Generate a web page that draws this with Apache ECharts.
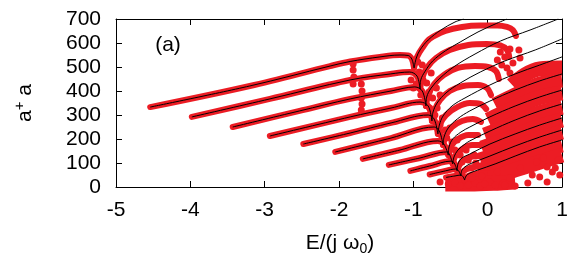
<!DOCTYPE html>
<html><head><meta charset="utf-8">
<script src="https://cdn.jsdelivr.net/npm/echarts@6/dist/echarts.min.js"></script>
<style>html,body{margin:0;padding:0;background:#fff}#c{width:580px;height:262px}</style>
</head><body><div id="c"></div>
<script>
// axis ticks
const xTicks = [-5, -4, -3, -2, -1, 0, 1];
const yTicks = [0, 100, 200, 300, 400, 500, 600, 700];

// black branch lines (left part, ending at the cusp)
const b1 = [[-4.54,333],[-3.20,421],[-2.12,504],[-1.85,523],[-1.45,542],[-1.18,550],[-1.07,548],[-1.02,533],[-0.99,496]];
const b2 = [[-3.98,292],[-2.93,367],[-1.85,446],[-1.31,471],[-1.05,479],[-0.95,462],[-0.91,408]];
const b3 = [[-3.43,250],[-2.53,317],[-1.85,367],[-1.30,400],[-0.98,417],[-0.88,400],[-0.83,337.5]];
const b4 = [[-2.93,212.5],[-1.85,292],[-1.30,329],[-0.91,354],[-0.80,337.5],[-0.75,275]];
const b5 = [[-2.48,179],[-1.85,225],[-1.30,267],[-0.80,300],[-0.72,283],[-0.67,221]];
const b6 = [[-2.05,146],[-1.30,204],[-0.72,250],[-0.65,233],[-0.60,175]];
const b7 = [[-1.68,117],[-1.18,154],[-0.67,192],[-0.59,179],[-0.53,133]];
const b8 = [[-1.33,92],[-0.91,121],[-0.55,146],[-0.51,133],[-0.47,96]];
const b9 = [[-1.04,67],[-0.78,87.5],[-0.49,108],[-0.45,100],[-0.41,67]];
const b10 = [[-0.78,52],[-0.57,67],[-0.43,75],[-0.39,67],[-0.36,46]];
const b11 = [[-0.56,40],[-0.44,46],[-0.36,50],[-0.33,42],[-0.31,29]];
const branches = [b1,b2,b3,b4,b5,b6,b7,b8,b9,b10,b11];

// black rising curves (from each cusp to the right)
const c1 = [[-0.99,496],[-0.96,537.5],[-0.91,571],[-0.80,612.5],[-0.63,654],[-0.44,687.5],[-0.32,700]];
const c2 = [[-0.91,408],[-0.90,446],[-0.84,483],[-0.74,525],[-0.57,567],[-0.37,604],[-0.13,646],[0.10,679],[0.26,700]];
const c3 = [[-0.83,337.5],[-0.82,375],[-0.76,412.5],[-0.64,454],[-0.44,504],[-0.17,554],[0.17,608],[0.57,654],[0.95,700]];
const c4 = [[-0.75,275],[-0.735,312.5],[-0.68,350],[-0.56,392],[-0.37,433],[-0.10,479],[0.23,525],[0.64,571],[1.0,617]];
const c5 = [[-0.67,221],[-0.65,258],[-0.60,296],[-0.48,337.5],[-0.305,371],[0.03,425],[0.37,471],[0.70,508],[1.0,542]];
const c6 = [[-0.60,175],[-0.587,208],[-0.53,246],[-0.41,283],[-0.24,317],[0.03,358],[0.37,404],[0.70,442],[1.0,471]];
const c7 = [[-0.53,133],[-0.52,167],[-0.47,200],[-0.36,229],[-0.24,250],[0.03,292],[0.37,337.5],[0.70,375],[1.0,404]];
const c8 = [[-0.47,96],[-0.453,125],[-0.40,154],[-0.305,179],[-0.24,192],[0.03,233],[0.37,279],[0.70,317],[1.0,346]];
const c9 = [[-0.41,67],[-0.40,96],[-0.345,121],[-0.24,137.5],[0.03,179],[0.37,221],[0.70,258],[1.0,287.5]];
const c10 = [[-0.36,46],[-0.345,71],[-0.29,87.5],[-0.21,100],[0.03,129],[0.37,171],[0.70,208],[1.0,237.5]];
const c11 = [[-0.31,29],[-0.29,46],[-0.24,58],[-0.13,71],[0.10,96],[0.37,129],[0.70,167],[1.0,196]];
const risingCurves = [c1,c2,c3,c4,c5,c6,c7,c8,c9,c10,c11];

// red numerical arcs beyond each cusp
const a1 = [[-0.99,496],[-0.95,542],[-0.88,579],[-0.78,617],[-0.57,650],[-0.345,667],[-0.10,673],[0.13,673],[0.26,667],[0.34,654],[0.38,629]];
const a2 = [[-0.91,408],[-0.88,454],[-0.82,496],[-0.695,537.5],[-0.51,571],[-0.26,592],[-0.01,596],[0.17,590],[0.26,571],[0.29,542]];
const a3 = [[-0.83,337.5],[-0.80,383],[-0.72,429],[-0.59,467],[-0.40,496],[-0.17,504],[0.005,500],[0.11,483],[0.15,450]];
const a4 = [[-0.75,275],[-0.72,317],[-0.64,362.5],[-0.51,400],[-0.33,421],[-0.13,425],[-0.01,412.5],[0.045,383]];
const a5 = [[-0.67,221],[-0.64,262.5],[-0.56,300],[-0.41,333],[-0.24,350],[-0.10,346],[-0.02,325]];
const a6 = [[-0.60,175],[-0.56,217],[-0.48,250],[-0.345,275],[-0.20,283],[-0.09,271]];
const a7 = [[-0.53,133],[-0.49,171],[-0.40,200],[-0.26,217],[-0.13,217]];
const a8 = [[-0.47,96],[-0.43,133],[-0.345,158],[-0.21,175],[-0.08,175]];
const a9 = [[-0.41,67],[-0.37,96],[-0.29,117],[-0.16,129],[-0.02,125]];
const a10 = [[-0.36,46],[-0.32,67],[-0.24,79],[-0.10,87.5]];
const a11 = [[-0.31,29],[-0.26,46],[-0.17,54],[-0.04,58]];
const redArcs = [a1,a2,a3,a4,a5,a6,a7,a8,a9,a10,a11];

// dense red cloud (lower right), traced as bands
const band1 = [[0.33,425],[0.50,467],[0.70,492],[1.0,496]];
const band2 = [[0.10,342],[0.37,383],[0.70,429],[1.0,446]];
const band3 = [[0.005,279],[0.30,321],[0.64,367],[1.0,392]];
const band4 = [[-0.04,217],[0.30,258],[0.64,304],[1.0,333]];
const band5 = [[-0.08,162.5],[0.30,204],[0.64,246],[1.0,279]];
const band6 = [[-0.10,112.5],[0.30,154],[0.64,196],[1.0,229]];
const band7 = [[-0.13,67],[0.30,108],[0.64,146],[1.0,175]];
const band8 = [[-0.305,21],[0.03,37.5],[0.37,71],[0.70,104],[1.0,133]];
const band9 = [[-0.57,12.5],[-0.24,12.5],[0.17,17],[0.37,21]];
const cloudBands = [band1,band2,band3,band4,band5,band6,band7,band8,band9];

// scattered red points
const envelopeDots = [[-0.94,521],[-0.92,479],[-0.87,446],[-0.90,383],[-0.84,362.5],[-0.79,396],[-0.78,329],[-0.74,371],[-0.71,300],[-0.68,329],[-0.64,258],[-0.61,287.5],[-0.57,237.5],[-0.55,204],[-0.51,246],[-0.48,187.5],[-0.44,154],[-0.41,196],[-0.37,133],[-0.345,104],[-0.29,154],[-0.26,112.5],[-0.22,79],[-0.18,133],[-0.16,100],[-0.88,508],[-0.82,433],[-0.76,475],[-0.69,412.5],[-0.64,383],[-1.03,446],[-1.00,412.5],[-0.96,429]];
const bridgeDots = [[-1.81,512.5],[-1.81,487.5],[-1.80,458],[-1.81,429],[-1.70,429],[-1.69,400],[-1.70,371],[-1.69,346],[-1.70,321]];
const arcEndDots = [[0.17,562.5],[0.23,542],[0.30,575],[0.42,571],[0.435,537.5],[0.34,517],[0.19,508],[0.26,496],[0.30,475],[0.13,529]];
const lowDots = [[0.45,154],[0.66,104],[0.80,83],[0.87,62.5],[0.95,112.5],[0.97,50],[0.80,21],[0.60,50],[0.44,79],[0.30,37.5],[0.21,17],[0.13,62.5],[0.03,21],[0.70,42],[0.54,17],[0.37,4],[0.91,79],[0.75,121],[-0.64,21],[-0.53,12.5],[-0.44,17],[-0.37,4],[-0.26,8],[-0.17,17],[-0.10,4],[-0.04,12.5],[0.10,8],[0.23,8],[-0.21,37.5],[-0.08,46]];

const RED = '#ec1c24';
const FONT = 'Liberation Sans, Arial, Helvetica, sans-serif';

const series = [];
function redLine(d, w, z, cap) {
  series.push({type:'line', data:d, symbol:'none', smooth:0.35, silent:true, z:z,
    lineStyle:{color:RED, width:w, cap:cap, join:'round', opacity:1}});
}
branches.forEach(d => redLine(d, 6, 2, 'round'));
redArcs.forEach(d => redLine(d, 6, 2, 'round'));
cloudBands.forEach(d => redLine(d, 15, 1, 'butt'));
series.push({type:'scatter', data:[].concat(envelopeDots, bridgeDots, arcEndDots, lowDots),
  symbolSize:7, itemStyle:{color:RED, opacity:1}, silent:true, z:2});
branches.forEach(d => series.push({type:'line', data:d, symbol:'none', smooth:0.35, silent:true, z:5,
  lineStyle:{color:'#000', width:1}}));
risingCurves.forEach(d => series.push({type:'line', data:d, symbol:'none', smooth:0.35, silent:true, z:5,
  lineStyle:{color:'#000', width:1}}));

const axisCommon = {
  type:'value',
  axisLine:{show:true, onZero:false, lineStyle:{color:'#000', width:1}},
  axisTick:{show:true, inside:true, length:6, lineStyle:{color:'#000', width:1}},
  splitLine:{show:false}
};

const chart = echarts.init(document.getElementById('c'), null, {renderer:'canvas'});
chart.setOption({
  animation:false,
  backgroundColor:'#fff',
  grid:{left:116, right:18, top:19, bottom:75, containLabel:false, outerBoundsMode:'none'},
  xAxis:[
    Object.assign({}, axisCommon, {position:'bottom', min:xTicks[0], max:xTicks[xTicks.length-1], interval:1,
      axisLabel:{show:true, color:'#000', fontSize:21, fontFamily:FONT, margin:13}}),
    Object.assign({}, axisCommon, {position:'top', min:xTicks[0], max:xTicks[xTicks.length-1], interval:1,
      axisLabel:{show:false}})
  ],
  yAxis:[
    Object.assign({}, axisCommon, {position:'left', min:yTicks[0], max:yTicks[yTicks.length-1], interval:100,
      axisLabel:{show:true, color:'#000', fontSize:21, fontFamily:FONT, margin:15}}),
    Object.assign({}, axisCommon, {position:'right', min:yTicks[0], max:yTicks[yTicks.length-1], interval:100,
      axisLabel:{show:false}})
  ],
  series: series,
  graphic:[
    {type:'text', x:168, y:45, style:{text:'(a)', fontSize:21, fontFamily:FONT, fill:'#000', align:'center', verticalAlign:'middle'}},
    {type:'text', x:340, y:243, style:{text:'{n|E/(j ω}{s|0}{n|)}', fontFamily:FONT, fill:'#000', align:'center', verticalAlign:'middle',
      rich:{n:{fontSize:21, fontFamily:FONT, lineHeight:26, verticalAlign:'middle'}, s:{fontSize:14, fontFamily:FONT, lineHeight:12, verticalAlign:'bottom'}}}},
    {type:'text', x:25, y:103, rotation:Math.PI/2, style:{text:'{n|a}{p|+}{n| a}', fontFamily:FONT, fill:'#000', align:'center', verticalAlign:'middle',
      rich:{n:{fontSize:21, fontFamily:FONT, lineHeight:26, verticalAlign:'middle'}, p:{fontSize:15, fontFamily:FONT, lineHeight:12, verticalAlign:'top'}}}}
  ]
});
</script></body></html>
